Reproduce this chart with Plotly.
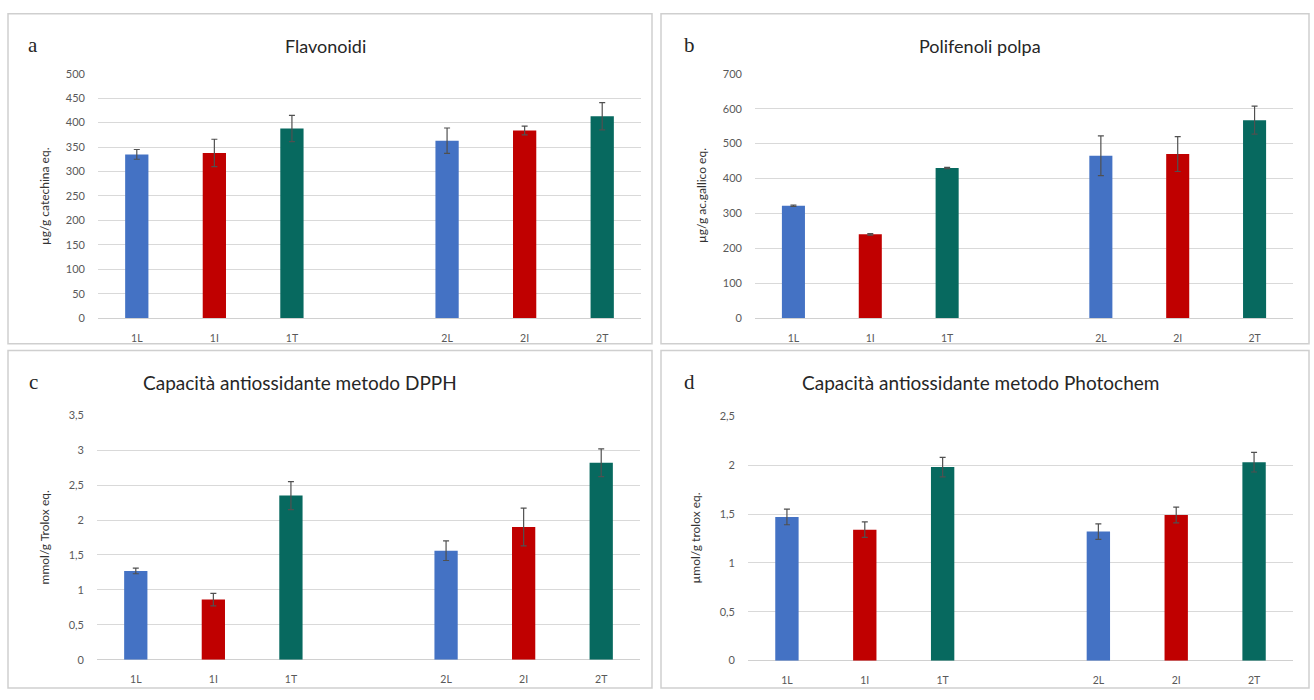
import plotly.graph_objects as go

# ---------------- data ----------------
categories = ["1L", "1I", "1T", " ", "2L", "2I", "2T"]

flav_vals = [335, 338, 388, None, 363, 384, 413]
flav_err = [10, 28, 27, 0, 26, 9, 28]

poli_vals = [322, 240, 430, None, 465, 470, 567]
poli_err = [2, 2, 2, 0, 57, 50, 40]

dpph_vals = [1.27, 0.86, 2.35, None, 1.56, 1.90, 2.82]
dpph_err = [0.04, 0.09, 0.20, 0, 0.14, 0.27, 0.20]

photo_vals = [1.47, 1.34, 1.98, None, 1.32, 1.49, 2.03]
photo_err = [0.08, 0.08, 0.10, 0, 0.08, 0.08, 0.10]

panel_titles = ["Flavonoidi", "Polifenoli polpa",
                "Capacità antiossidante metodo DPPH",
                "Capacità antiossidante metodo Photochem"]
panel_letters = ["a", "b", "c", "d"]
y_titles = ["µg/g catechina eq.", "µg/g ac.gallico eq.",
            "mmol/g Trolox eq.", "µmol/g trolox eq."]
y_ranges = [[0, 500], [0, 700], [0, 3.5], [0, 2.5]]
y_dticks = [50, 100, 0.5, 0.5]

# ---------------- style ----------------
W, H = 1314, 700
BLUE, RED, TEAL = "#4472C4", "#C00000", "#07695F"
bar_colors = [BLUE, RED, TEAL, BLUE, BLUE, RED, TEAL]
FONT = "Lato"

# plot areas in pixels: (x0, x1, ybottom, ytop)
areas = [(98, 641, 317, 68), (755, 1293, 317, 68),
         (97, 640, 665, 416), (748, 1293, 666, 417)]

def px(x):
    return x / W

def py(y):
    return 1 - y / H

fig = go.Figure()
series = [(flav_vals, flav_err), (poli_vals, poli_err),
          (dpph_vals, dpph_err), (photo_vals, photo_err)]

layout = dict(
    width=W, height=H,
    margin=dict(l=0, r=0, t=0, b=0),
    paper_bgcolor="white", plot_bgcolor="white",
    showlegend=False, bargap=0.7,
    separators=",.",
    font=dict(family=FONT, color="#595959"),
)

annotations = []
shapes = []

for i, ((vals, errs), area) in enumerate(zip(series, areas)):
    n = "" if i == 0 else str(i + 1)
    x0, x1, yb, yt = area
    fig.add_trace(go.Bar(
        x=categories, y=vals,
        marker=dict(color=bar_colors, line=dict(width=0)),
        error_y=dict(type="data", array=errs, visible=True,
                     color="#505050", thickness=1.2, width=3),
        xaxis="x" + n, yaxis="y" + n,
    ))
    layout["xaxis" + n] = dict(
        domain=[px(x0), px(x1)], anchor="y" + n,
        type="category", categoryorder="array", categoryarray=categories,
        range=[-0.5, 6.5], showgrid=False, showline=False,
        ticks="", ticklabelstandoff=12,
        tickfont=dict(size=10.5, color="#595959", family=FONT),
    )
    layout["yaxis" + n] = dict(
        domain=[py(yb), py(yt)], anchor="x" + n,
        range=y_ranges[i], dtick=y_dticks[i], tick0=0,
        showgrid=True, gridcolor="#d9d9d9", gridwidth=1,
        zeroline=True, zerolinecolor="#d0d0d0", zerolinewidth=1,
        showline=False, ticks="", ticklabelstandoff=12,
        tickfont=dict(size=11, color="#595959", family=FONT),
    )
    # y-axis title
    annotations.append(dict(
        x=px(x0 - 53), y=py((yb + yt) / 2), xref="paper", yref="paper",
        text=y_titles[i], showarrow=False, textangle=-90,
        xanchor="center", yanchor="middle",
        font=dict(size=12, color="#333333", family=FONT),
    ))

# titles and panel letters
title_pos = [(325, 40, 18), (980, 40, 18), (300, 383, 19), (980, 383, 19)]
letter_pos = [(33, 39), (689, 39), (33, 382), (689, 382)]
for i in range(4):
    tx, ty, ts = title_pos[i]
    annotations.append(dict(
        x=px(tx), y=py(ty), xref="paper", yref="paper",
        text=panel_titles[i], showarrow=False,
        xanchor="center", yanchor="middle",
        font=dict(size=ts, color="#262626", family=FONT),
    ))
    lx, ly = letter_pos[i]
    annotations.append(dict(
        x=px(lx), y=py(ly), xref="paper", yref="paper",
        text=panel_letters[i], showarrow=False,
        xanchor="center", yanchor="middle",
        font=dict(size=21, color="#262626", family="Liberation Serif"),
    ))

# panel frames
frames = [(8, 7, 652, 343), (661, 7, 1309, 343),
          (8, 350, 652, 694), (661, 350, 1309, 694)]
for (fx0, fy0, fx1, fy1) in frames:
    shapes.append(dict(
        type="rect", xref="paper", yref="paper",
        x0=px(fx0), x1=px(fx1), y0=py(fy1), y1=py(fy0),
        line=dict(color="#cfcfcf", width=1.5), fillcolor="rgba(0,0,0,0)",
        layer="below",
    ))

layout["annotations"] = annotations
layout["shapes"] = shapes
fig.update_layout(**layout)

fig.write_html("out.html")
